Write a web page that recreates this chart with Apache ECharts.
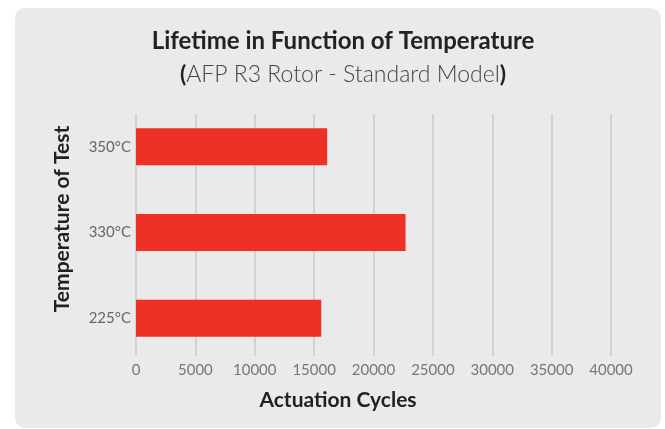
<!DOCTYPE html>
<html lang="en">
<head>
<meta charset="UTF-8">
<script src="https://cdn.jsdelivr.net/npm/echarts@6/dist/echarts.min.js"></script>
<style>
    html, body { margin: 0; padding: 0; background: #fff; }
    #chart { width: 665px; height: 429px; }
</style>
</head>
<body>
<div id="chart"></div>
<script type="text/javascript">
    // data (y category axis runs bottom -> top)
    var temperatures = ['225°C', '330°C', '350°C'];
    var cycles = [15600, 22700, 16100];
    var cycleMin = 0;
    var cycleMax = 40000;
    var cycleStep = 5000;

    var chart = echarts.init(document.getElementById('chart'));
    var font = 'Lato, "Open Sans", sans-serif';

    var option = {
        backgroundColor: '#fff',
        textStyle: { fontFamily: font },
        graphic: [
            {   // grey card behind the chart
                type: 'rect',
                z: -100,
                shape: { x: 15, y: 8, width: 646, height: 420, r: 10 },
                style: { fill: '#eaeaea' }
            },
            {
                type: 'text',
                x: 62, y: 219,
                rotation: Math.PI / 2,
                style: {
                    text: 'Temperature of Test',
                    font: 'bold 21px ' + font,
                    fill: '#222',
                    align: 'center',
                    verticalAlign: 'middle'
                }
            },
            {
                type: 'text',
                x: 338, y: 400,
                style: {
                    text: 'Actuation Cycles',
                    font: 'bold 21px ' + font,
                    fill: '#222',
                    align: 'center',
                    verticalAlign: 'middle'
                }
            }
        ],
        title: [
            {
                text: 'Lifetime in Function of Temperature',
                left: 338, top: 24,
                textAlign: 'center',
                textStyle: { fontFamily: font, fontSize: 24, fontWeight: 'bold', color: '#222' }
            },
            {
                text: '{b|(}AFP R3 Rotor - Standard Model{b|)}',
                left: 338, top: 58,
                textAlign: 'center',
                textStyle: {
                    fontFamily: font, fontSize: 23, fontWeight: 300, color: '#444',
                    rich: { b: { fontFamily: font, fontSize: 23, fontWeight: 'bold', color: '#222' } }
                }
            }
        ],
        grid: [
            { left: 136, top: 104, width: 475, height: 257 },
            { left: 136, top: 114, width: 475, height: 242 }
        ],
        xAxis: [
            { type: 'value', gridIndex: 0, min: cycleMin, max: cycleMax, interval: cycleStep, show: false },
            {
                type: 'value', gridIndex: 1, min: cycleMin, max: cycleMax, interval: cycleStep,
                axisLine: { show: false },
                axisTick: { show: false },
                splitLine: { lineStyle: { color: '#d2d2d2', width: 2 } },
                axisLabel: {
                    margin: 7, fontSize: 15, color: '#777', fontFamily: font,
                    formatter: function (v) { return String(v); }
                }
            }
        ],
        yAxis: [
            {
                type: 'category', gridIndex: 0, data: temperatures,
                axisLine: { show: false },
                axisTick: { show: false },
                axisLabel: { margin: 5, fontSize: 15, color: '#666', fontFamily: font }
            },
            { type: 'value', gridIndex: 1, show: false }
        ],
        series: [
            {
                type: 'bar',
                xAxisIndex: 0,
                yAxisIndex: 0,
                data: cycles,
                barWidth: 37,
                itemStyle: { color: '#ee3127' },
                z: 3
            }
        ]
    };

    chart.setOption(option);
</script>
</body>
</html>
